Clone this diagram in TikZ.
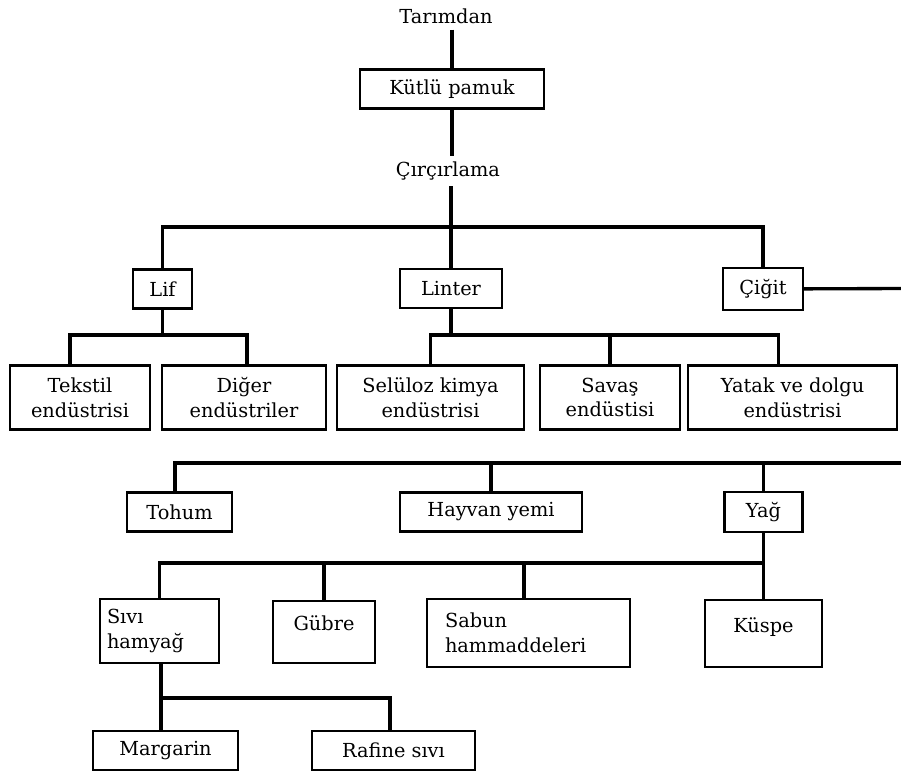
\documentclass[tikz,border=0pt]{standalone}
\usepackage{fontspec}
\setmainfont{DejaVu Serif}
\usepackage{tikz}
\newcommand{\upword}[2]{\raisebox{#1}[\height][\depth]{#2}}

\begin{document}
\begin{tikzpicture}[
        box/.style = {draw, line width=1.2pt, minimum width=#1, minimum height=0.78cm, inner sep=0.05cm, align=center},
        tall/.style = {minimum height=1.28cm},
        link/.style = {line width=1.9pt},
        font=\fontsize{11}{14}\selectfont
        ]
        \useasboundingbox (0,0) rectangle (18.02,-15.52);

        \node (tar) at (8.92,-0.32) {Tarımdan};
        \node (kutlu) at (9.04,-1.78) [box=3.68cm] {Kütlü pamuk};
        \node (circ) at (8.96,-3.42) {Çırçırlama};

        \node (lif) at (3.25,-5.78) [box=1.18cm] {Lif};
        \node (linter) at (9.02,-5.77) [box=2.04cm] {Linter};
        \node (cigit) at (15.26,-5.78) [box=1.6cm, minimum height=0.84cm] {Çiğit};

        \node (tekstil) at (1.6,-7.95) [box=2.8cm, tall] {Tekstil\\endüstrisi};
        \node (diger) at (4.88,-7.95) [box=3.28cm, tall] {Diğer\\endüstriler};
        \node (seluloz) at (8.61,-7.95) [box=3.74cm, tall] {Selüloz kimya\\endüstrisi};
        \node (savas) at (12.2,-7.95) [box=2.8cm, tall] {Savaş\\endüstisi};
        \node (yatak) at (15.85,-7.95) [box=4.18cm, tall] {Yatak ve dolgu\\endüstrisi};

        \node (tohum) at (3.59,-10.24) [box=2.1cm] {Tohum};
        \node (hayvan) at (9.82,-10.24) [box=3.64cm] {Hayvan yemi};
        \node (yag) at (15.27,-10.24) [box=1.56cm, minimum height=0.8cm] {Yağ};

        \node (sivi) at (3.19,-12.62) [box=2.38cm, tall, align=left, text width=2.1cm, inner xsep=0.14cm] {Sıvı\\hamyağ};
        \node (gubre) at (6.48,-12.64) [box=2.04cm, minimum height=1.24cm] {\upword{5pt}{Gübre}};
        \node (sabun) at (10.57,-12.66) [box=4.06cm, minimum height=1.36cm, align=left, text width=3.34cm, inner xsep=0.36cm] {Sabun\\hammaddeleri};
        \node (kuspe) at (15.27,-12.67) [box=2.34cm, minimum height=1.34cm] {\upword{3.5pt}{Küspe}};

        \node (margarin) at (3.31,-15.01) [box=2.9cm] {Margarin};
        \node (rafine) at (7.87,-15.01) [box=3.26cm] {Rafine sıvı};

        % bus lines
        \coordinate (circbus) at (9.04,-4.54);
        \coordinate (lifbus) at (3.25,-6.7);
        \coordinate (linbus) at (9.02,-6.7);
        \coordinate (cigend) at (18.02,-5.77);
        \coordinate (cigbus) at (18.02,-9.26);
        \coordinate (yagbus) at (15.27,-11.26);
        \coordinate (sivibus) at (3.22,-13.96);

        \draw[link] (tar.south -| kutlu) -- (kutlu);
        \draw[link] (kutlu) -- (kutlu |- circ.north);
        \draw[link] (circ.south -| linter) -- (linter);
        \draw[link] (lif) |- (circbus) -| (cigit);

        \draw[link] (lif) -- (lifbus);
        \draw[link] ([xshift=-0.2cm]tekstil.north) |- (lifbus) -| ([xshift=0.06cm]diger.north);
        \draw[link] (linter) -- (linbus);
        \draw[link] (seluloz) |- (linbus) -| ([xshift=-0.28cm]yatak.north);
        \draw[link] (savas) -- (savas |- linbus);

        \draw[link] (cigit) -- (cigend);
        \draw[link] (cigbus) -| ([xshift=-0.09cm]tohum.north);
        \draw[link] (hayvan) -- (hayvan |- cigbus);
        \draw[link] (yag) -- (yag |- cigbus);

        \draw[link] (yag) -- (kuspe);
        \draw[link] (sivi) |- (yagbus);
        \draw[link] (gubre) -- (gubre |- yagbus);
        \draw[link] ([xshift=-0.09cm]sabun.north) -- ([xshift=-0.09cm]sabun.north |- yagbus);

        \draw[link] (sivi.south -| sivibus) -- (sivibus) -| ([xshift=-0.07cm]rafine.north);
        \draw[link] (margarin.north -| sivibus) -- (sivibus);
\end{tikzpicture}
\end{document}
